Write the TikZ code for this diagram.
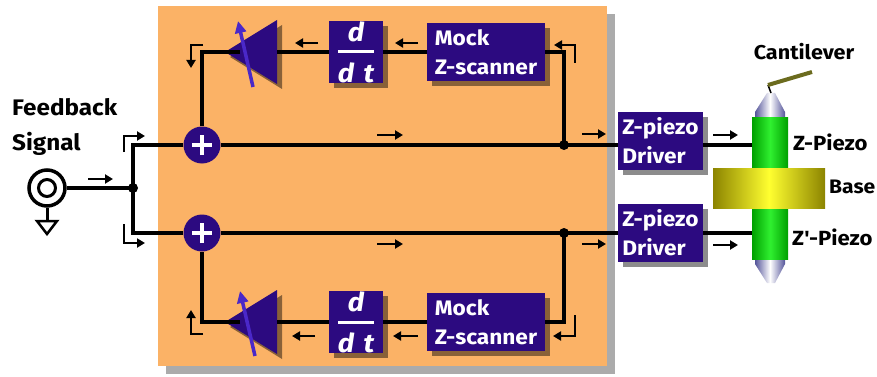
\documentclass[tikz,border=0pt]{standalone}
\usepackage{fontspec}
\usepackage{amsmath}
\setmainfont{Fira Sans}[FakeStretch=1.08]
\usetikzlibrary{arrows.meta,shadows}

\definecolor{panelfill}{HTML}{FBB266}
\definecolor{panelshade}{HTML}{ABABAB}
\definecolor{ink}{HTML}{2C0A80}
\definecolor{tune}{HTML}{4A28C8}
\definecolor{piezoedge}{HTML}{00A000}
\definecolor{piezomid}{HTML}{30F030}
\definecolor{baseedge}{HTML}{8C8400}
\definecolor{basemid}{HTML}{FFFF30}
\definecolor{tipedge}{HTML}{55559A}
\definecolor{beam}{HTML}{6B6B1E}

\begin{document}
\begin{tikzpicture}[x=1pt,y=-1pt,
  wire/.style={line width=3.6pt,line join=miter},
  cue/.style={line width=2.6pt,-{Triangle[length=8pt,width=9pt]}},
  blk/.style={fill=ink,text=white,inner sep=0pt,align=left,
    font=\bfseries\fontsize{21}{29}\selectfont,
    drop shadow={shadow xshift=5pt,shadow yshift=-5pt,fill=black,opacity=0.45}},
  ddt/.style={blk,minimum width=54pt,minimum height=58pt,font=\bfseries\fontsize{26}{26}\selectfont},
  sum/.style={circle,fill=ink,minimum size=37pt,inner sep=0pt,
    path picture={\draw[white,line width=4.5pt]
      ([xshift=-10pt]path picture bounding box.center) -- ([xshift=10pt]path picture bounding box.center)
      ([yshift=-10pt]path picture bounding box.center) -- ([yshift=10pt]path picture bounding box.center);}},
  dot/.style={circle,fill=black,minimum size=10pt,inner sep=0pt},
  lbl/.style={font=\bfseries\fontsize{20.5}{24}\selectfont,inner sep=0pt},
  piezobody/.style={left color=piezoedge,right color=piezoedge,middle color=piezomid,inner sep=0pt},
  ampshadow/.style={fill=black,opacity=0.45},
  tuner/.style={tune,line width=3.5pt,-{Triangle[length=12pt,width=11pt]}}
]
\useasboundingbox (0,0) rectangle (877,377);

% control panel with its shadow
\fill[panelshade] (166,14) rectangle (615,374);
\fill[panelfill] (158,6) rectangle (607,366);

% input jack and ground
\node[circle,draw,line width=3.5pt,minimum size=36pt,inner sep=0pt,fill=white] (jack) at (47,188) {};
\node[circle,draw,line width=3pt,minimum size=17pt,inner sep=0pt] (jackpin) at (47,188) {};
\coordinate (gnd) at (47,221);
\draw[line width=3pt] (jack.south) -- (gnd);
\draw[line width=2.5pt,fill=white,line join=miter] (gnd) ++(-10,0) -- ++(20,0) -- ++(-10,13) -- cycle;

\node[anchor=north west,align=left,inner sep=0pt,font=\bfseries\fontsize{22.5}{35}\selectfont] (fbtext) at (12,98) {Feedback\\Signal};

% summing junctions
\node[sum] (plusT) at (202,145) {};
\node[sum] (plusB) at (202,233) {};

% blocks
\node[blk,minimum width=118pt,minimum height=58pt] (mockT) at (486,52) {Mock\\Z-scanner};
\node[blk,minimum width=118pt,minimum height=58pt] (mockB) at (486,322) {Mock\\Z-scanner};
\node[ddt] (ddtT) at (356,52) {$\genfrac{}{}{3pt}{0}{\textit{d}}{\textit{d\hspace{3pt} t}}$};
\node[ddt] (ddtB) at (356,322) {$\genfrac{}{}{3pt}{0}{\textit{d}}{\textit{d\hspace{3pt} t}}$};
\node[blk,minimum width=85pt,minimum height=58pt] (drvT) at (660.5,141) {Z-piezo\\Driver};
\node[blk,minimum width=85pt,minimum height=58pt] (drvB) at (660.5,232.5) {Z-piezo\\Driver};

% variable-gain amplifiers
\coordinate (ampTtip) at (225,52);
\coordinate (ampTin) at (277,52);
\coordinate (ampBtip) at (225,322);
\coordinate (ampBin) at (277,322);
\fill[ampshadow] (230,57) -- (282,25) -- (282,89) -- cycle;
\fill[ink] (ampTtip) -- (277,20) -- (277,84) -- cycle;
\fill[ampshadow] (230,327) -- (282,295) -- (282,359) -- cycle;
\fill[ink] (ampBtip) -- (277,290) -- (277,354) -- cycle;

% scanner stack
\shade[left color=tipedge,right color=tipedge,middle color=white]
  (755,119) -- (755,112) -- (767,93) -- (775,93) -- (785,112) -- (785,119) -- cycle;
\shade[left color=tipedge,right color=tipedge,middle color=white]
  (755,258) -- (755,264) -- (767,283) -- (775,283) -- (785,264) -- (785,258) -- cycle;
\node[piezobody,minimum width=36pt,minimum height=50pt] (pzT) at (770,143) {};
\node[piezobody,minimum width=36pt,minimum height=51pt] (pzB) at (770,233.5) {};
\node[left color=baseedge,right color=baseedge,middle color=basemid,inner sep=0pt,
  minimum width=112pt,minimum height=40pt] (base) at (769,188) {};
\coordinate (tip) at (771,93);
\coordinate (beamroot) at (768,85);
\coordinate (beamend) at (812,72);
\draw[line width=1.5pt] (tip) -- (beamroot);
\draw[beam,line width=4pt] (beamroot) -- (beamend);

% wiring
\coordinate (split) at (133,188);
\coordinate (brT) at (133,145);
\coordinate (brB) at (133,233);
\coordinate (jT) at (564,145);
\coordinate (jB) at (564,233);
\draw[wire] (jack.east) -- (split);
\draw[wire] (plusT) -- (brT) -- (brB) -- (plusB);
\draw[wire] (plusT) -- (drvT.west |- jT);
\draw[wire] (plusB) -- (drvB.west |- jB);
\draw[wire] (drvT.east |- jT) -- (pzT.west |- jT);
\draw[wire] (drvB.east |- jB) -- (pzB.west |- jB);
\draw[wire] (jT) |- (mockT.east);
\draw[wire] (jB) |- (mockB.east);
\draw[wire] (mockT.west) -- (ddtT.east);
\draw[wire] (mockB.west) -- (ddtB.east);
\draw[wire] (ddtT.west) -- (ampTin);
\draw[wire] (ddtB.west) -- (ampBin);
\draw[wire] (240,52) -| (plusT.north);
\draw[wire] (240,322) -| (plusB.south);
\node[dot] (splitdot) at (split) {};
\node[dot] (jTdot) at (jT) {};
\node[dot] (jBdot) at (jB) {};

% gain adjustment arrows
\draw[tuner] (253,87) -- (238,21);
\draw[tuner] (255,356) -- (240,291);

% signal-flow cues
\draw[cue] (88,179) -- (113,179);
\draw[cue] (124,152) |- (145,136);
\draw[cue] (124,224) |- (145,243);
\draw[cue] (377,135) -- (403,135);
\draw[cue] (377,244) -- (403,244);
\draw[cue] (582,134) -- (606,134);
\draw[cue] (582,244) -- (606,244);
\draw[cue] (713,135) -- (738,135);
\draw[cue] (713,245) -- (738,245);
\draw[cue] (418,43) -- (395,43);
\draw[cue] (318,43) -- (295,43);
\draw[cue] (418,336) -- (393,336);
\draw[cue] (315,336) -- (292,336);
\draw[cue] (575,63) |- (554,45);
\draw[cue] (203,45) -| (191,68);
\draw[cue] (203,334) -| (191,310);
\draw[cue] (575,315) |- (553,336);

% stack labels
\node[lbl,font=\bfseries\fontsize{20}{24}\selectfont] (lblcant) at (804,52) {Cantilever};
\node[lbl,anchor=west] (lblz) at (793,142) {Z-Piezo};
\node[lbl,anchor=west,font=\bfseries\fontsize{19.5}{24}\selectfont] (lblbase) at (829,187) {Base};
\node[lbl,anchor=west] (lblzp) at (792,237) {Z\textquotesingle-Piezo};
\end{tikzpicture}
\end{document}
